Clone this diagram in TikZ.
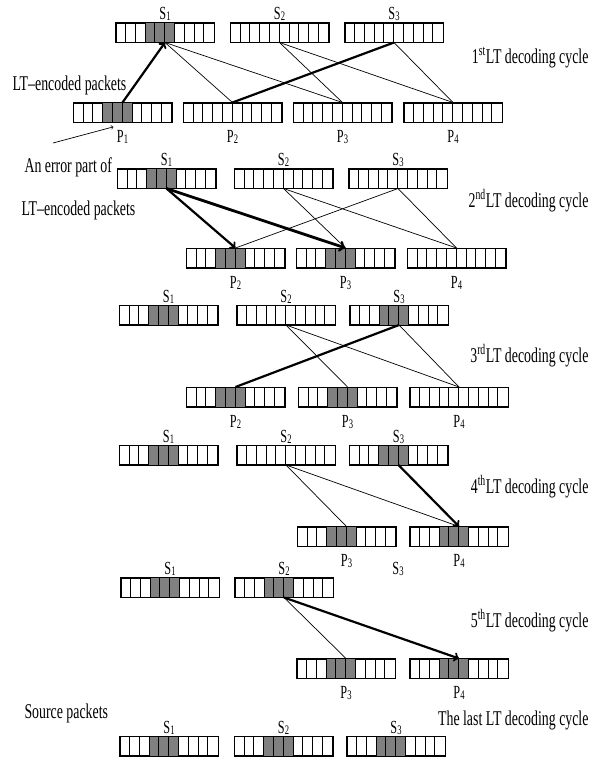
\documentclass[tikz,border=0pt]{standalone}
\usepackage{fontspec}
\setmainfont[FakeStretch=0.66]{Liberation Serif}
\usetikzlibrary{calc}

\newcommand{\cellw}{9.8}
\newcommand{\Sp}[1]{S\raisebox{-1.2pt}{\fontsize{13}{13}\selectfont #1}}
\newcommand{\Pp}[1]{P\raisebox{-1.2pt}{\fontsize{13}{13}\selectfont #1}}

\tikzset{
  pktbox/.style={draw,line width=1pt,minimum width=98pt,minimum height=19pt,inner sep=0pt,fill=white},
  errcells/.style={fill=black!50},
  cellsep/.style={line width=0.6pt},
  pktlbl/.style={font=\fontsize{18.5}{19}\selectfont,anchor=base},
  cyclbl/.style={font=\fontsize{21}{24}\selectfont,anchor=base east},
  txtlbl/.style={font=\fontsize{21}{24}\selectfont,anchor=base west},
  link/.style={line width=0.7pt},
  strong/.style={line width=2.2pt},
}

% a packet of ten cells, #3=1 greys the error part
\newcommand{\packet}[3]{%
  \node[pktbox] (#1) at (#2) {};
  \ifnum#3=1
    \fill[errcells] ($(#1.south west)+(3*\cellw,0)$) rectangle ($(#1.north west)+(6*\cellw,0)$);
  \fi
  \foreach \k in {1,...,9}
    \draw[cellsep] ($(#1.south west)+(\k*\cellw,0)$) -- ($(#1.north west)+(\k*\cellw,0)$);
  \draw[line width=1pt] (#1.south west) rectangle (#1.north east);
}
\newcommand{\srcpacket}[4]{\packet{#1}{#2}{#3}\node[pktlbl] (#1l) at ($(#1.north)+(0,-3)$) {#4};}
\newcommand{\encpacket}[4]{\packet{#1}{#2}{#3}\node[pktlbl] (#1l) at ($(#1.south)+(0,20)$) {#4};}

\begin{document}
\begin{tikzpicture}[x=1pt,y=-1pt]
  \useasboundingbox (0,0) rectangle (595,761);

  % 1st cycle
  \srcpacket{s1a}{165,32.5}{1}{\Sp1}
  \srcpacket{s2a}{279.5,32.5}{0}{\Sp2}
  \srcpacket{s3a}{394,32.5}{0}{\Sp3}
  \encpacket{p1a}{122.5,112.5}{1}{\Pp1}
  \encpacket{p2a}{232.5,112.5}{0}{\Pp2}
  \encpacket{p3a}{342.5,112.5}{0}{\Pp3}
  \encpacket{p4a}{453,112.5}{0}{\Pp4}

  \draw[link] (s1a.south) -- (p2a.north);
  \draw[link] (s1a.south) -- (p3a.north);
  \draw[link] (s2a.south) -- (p3a.north);
  \draw[link] (s2a.south) -- (p4a.north);
  \draw[link] (s3a.south) -- (p4a.north);
  \draw[strong] (s3a.south) -- (p2a.north);
  \draw[strong,->] (p1a.north) -- (s1a.south);

  \node[cyclbl] (cyc1) at (592,63) {1\textsuperscript{st}LT decoding cycle};
  \node[txtlbl] (enc1) at (9,90) {LT--encoded packets};
  \node[txtlbl] (err) at (21,172) {An error part of};
  \node[txtlbl] (enc2) at (18,215) {LT--encoded packets};
  \coordinate (errtail) at (53,143);
  \draw[link,->] (errtail) -- (p1al.north west);

  % 2nd cycle
  \srcpacket{s1b}{166.5,178.5}{1}{\Sp1}
  \srcpacket{s2b}{283.5,178.5}{0}{\Sp2}
  \srcpacket{s3b}{398,178.5}{0}{\Sp3}
  \encpacket{p2b}{235.5,258}{1}{\Pp2}
  \encpacket{p3b}{345.5,258}{1}{\Pp3}
  \encpacket{p4b}{456.5,258}{0}{\Pp4}

  \draw[link] (s2b.south) -- (p3b.north);
  \draw[link] (s2b.south) -- (p4b.north);
  \draw[link] (s3b.south) -- (p2b.north);
  \draw[link] (s3b.south) -- (p4b.north);
  \draw[strong,->] (s1b.south) -- (p2b.north);
  \draw[strong,line width=2.8pt,->] (s1b.south) -- (p3b.north);

  \node[cyclbl] (cyc2) at (592,207) {2\textsuperscript{nd}LT decoding cycle};

  % 3rd cycle
  \srcpacket{s1c}{168.5,315}{1}{\Sp1}
  \srcpacket{s2c}{286,315}{0}{\Sp2}
  \srcpacket{s3c}{399,315}{1}{\Sp3}
  \encpacket{p2c}{235.5,397}{1}{\Pp2}
  \encpacket{p3c}{347.5,397}{1}{\Pp3}
  \encpacket{p4c}{459,397}{0}{\Pp4}

  \draw[link] (s2c.south) -- (p3c.north);
  \draw[link] (s2c.south) -- (p4c.north);
  \draw[link] (s3c.south) -- (p4c.north);
  \draw[strong] (s3c.south) -- (p2c.north);

  \node[cyclbl] (cyc3) at (592,362) {3\textsuperscript{rd}LT decoding cycle};

  % 4th cycle
  \srcpacket{s1d}{168.5,455}{1}{\Sp1}
  \srcpacket{s2d}{286,455}{0}{\Sp2}
  \srcpacket{s3d}{398.5,455}{1}{\Sp3}
  \encpacket{p3d}{346.5,536.5}{1}{\Pp3}
  \encpacket{p4d}{459,536.5}{1}{\Pp4}

  \draw[link] (s2d.south) -- (p3d.north);
  \draw[link] (s2d.south) -- (p4d.north);
  \draw[strong,->] (s3d.south) -- (p4d.north);

  \node[cyclbl] (cyc4) at (592,493) {4\textsuperscript{th}LT decoding cycle};

  % 5th cycle
  \srcpacket{s1e}{170,587.5}{1}{\Sp1}
  \srcpacket{s2e}{284,587.5}{1}{\Sp2}
  \node[pktlbl] (s3el) at (398,574) {\Sp3};
  \encpacket{p3e}{346,668.5}{1}{\Pp3}
  \encpacket{p4e}{459,668.5}{1}{\Pp4}

  \draw[link] (s2e.south) -- (p3e.north);
  \draw[strong,->] (s2e.south) -- (p4e.north);

  \node[cyclbl] (cyc5) at (592,627) {5\textsuperscript{th}LT decoding cycle};

  % last cycle
  \node[txtlbl] (src) at (21,718) {Source packets};
  \node[cyclbl] (cyc6) at (592,725) {The last LT decoding cycle};
  \srcpacket{s1f}{169,746}{1}{\Sp1}
  \srcpacket{s2f}{283.5,746}{1}{\Sp2}
  \srcpacket{s3f}{396,746}{1}{\Sp3}
\end{tikzpicture}
\end{document}
